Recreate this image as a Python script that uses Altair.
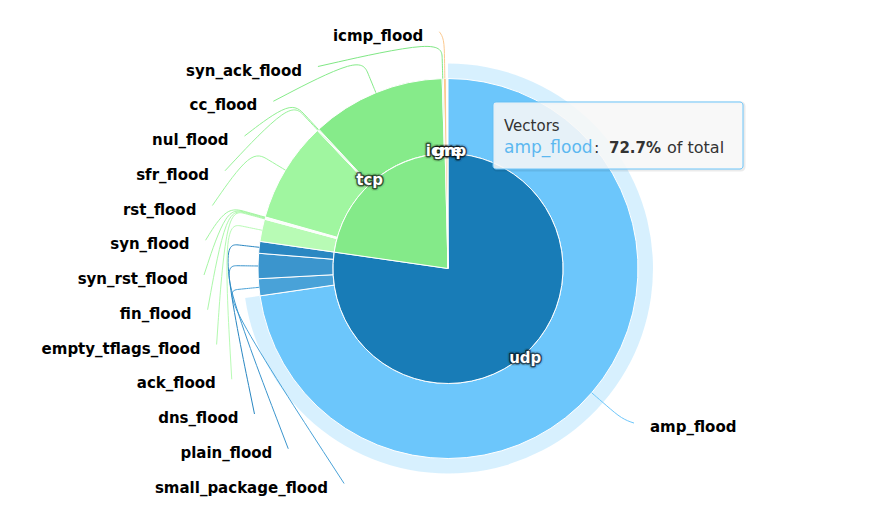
import math
import altair as alt
import numpy as np
import pandas as pd

# ---------------- data ----------------
series_name = "Vectors"
inner_names = ["udp", "tcp", "icmp", "gre"]
inner_values = [77.28, 22.33, 0.25, 0.14]
inner_colors = ["#187cb7", "#84ea89", "#f7a35c", "#e4d354"]

outer_names = ["amp_flood", "small_package_flood", "plain_flood", "dns_flood",
               "ack_flood", "empty_tflags_flood", "fin_flood", "syn_rst_flood", "syn_flood",
               "rst_flood", "sfr_flood", "nul_flood", "cc_flood", "syn_ack_flood",
               "icmp_flood"]
outer_parents = ["udp"] * 4 + ["tcp"] * 10 + ["icmp"]
outer_values = [72.70, 1.44, 2.14, 1.00,
                1.90, 0.05, 0.05, 0.05, 0.05,
                8.56, 0.08, 0.08, 11.41, 0.10,
                0.25]
outer_colors = ["#6cc6fb", "#49a2d8", "#3b95cd", "#2a87c2",
                "#b8fbb5", "#b2f9af", "#acf8aa", "#a6f6a4", "#a2f5a0",
                "#a0f6a0", "#98f299", "#92f093", "#86eb8a", "#80e785",
                "#fcc98f"]
hover_point = "amp_flood"

# ---------------- layout ----------------
W, H = 836, 495
PAD_L, PAD_T = 22, 13
R_IN, R_OUT, R_HALO = 115, 190, 205
R_LABEL_IN = 118
R_BREAK, R_CTRL = 210, 230
LABEL_CIRCLE_R, LABEL_CIRCLE_DX, LABEL_CIRCLE_DY = 235.4, 24.7, 3.2
R_NATURAL = 241.6
SLOT, SLOT0 = 34.75, 224.0
CONN_GAP = 16
FONT = "DejaVu Sans"

TOTAL = float(sum(inner_values))

inner_df = pd.DataFrame({"name": inner_names, "value": inner_values,
                         "color": inner_colors, "idx": range(len(inner_names))})
outer_df = pd.DataFrame({"name": outer_names, "parent": outer_parents,
                         "value": outer_values, "color": outer_colors,
                         "idx": range(len(outer_names))})

vals = np.array(outer_values, dtype=float)
ends = np.cumsum(vals)
starts = ends - vals
mids = (starts + vals / 2) / TOTAL * 2 * math.pi


def label_dx(yc):
    return LABEL_CIRCLE_DX + math.sqrt(max(0.0, LABEL_CIRCLE_R ** 2 - (yc - LABEL_CIRCLE_DY) ** 2))


lab_rows, conn_rows = [], []
k = 0
for i, name in enumerate(outer_names):
    th = mids[i]
    left = th > math.pi
    if left:
        base = SLOT0 - SLOT * k
        k += 1
        yc = base - 5.5
        xl = -label_dx(yc)
        p0x = xl + CONN_GAP
    else:
        yc = R_NATURAL * (-math.cos(th))
        base = yc + 5.5
        xl = label_dx(yc)
        p0x = xl - CONN_GAP
    lab_rows.append({"name": name, "x": xl, "y": base, "side": "left" if left else "right"})
    pts = [(p0x, base - 9)]
    for r in (R_CTRL, R_BREAK, R_OUT):
        pts.append((r * math.sin(th), -r * math.cos(th)))
    for j, (px, py) in enumerate(pts):
        conn_rows.append({"name": name, "o": j, "x": px, "y": py, "color": outer_colors[i]})

lab_df = pd.DataFrame(lab_rows)
conn_df = pd.DataFrame(conn_rows)

hv = outer_values[outer_names.index(hover_point)]
tip_df = pd.DataFrame({"series": [series_name], "point": [hover_point],
                       "pct": [f"{hv / TOTAL * 100:.1f}%"]})

xs = alt.Scale(domain=[-W / 2, W / 2], nice=False, zero=False)
ys = alt.Scale(domain=[-H / 2, H / 2], nice=False, zero=False, reverse=True)
th_scale = alt.Scale(domain=[0, TOTAL])

theta_enc = alt.Theta("value:Q", stack=True, scale=th_scale)

halo = alt.Chart(outer_df).transform_filter(
    alt.datum.name == hover_point
).mark_arc(radius=R_HALO, radius2=R_OUT, opacity=0.27).encode(
    theta=theta_enc, color=alt.Color("color:N", scale=None), order=alt.Order("idx:Q"))

outer = alt.Chart(outer_df).mark_arc(radius=R_OUT, radius2=R_IN, stroke="#ffffff",
                                     strokeWidth=1).encode(
    theta=theta_enc, color=alt.Color("color:N", scale=None), order=alt.Order("idx:Q"))

inner = alt.Chart(inner_df).mark_arc(radius=R_IN, stroke="#ffffff", strokeWidth=1).encode(
    theta=theta_enc, color=alt.Color("color:N", scale=None), order=alt.Order("idx:Q"))

conn = alt.Chart(conn_df).mark_line(interpolate="basis", strokeWidth=1).encode(
    x=alt.X("x:Q", scale=xs, axis=None), y=alt.Y("y:Q", scale=ys, axis=None),
    detail="name:N", order="o:Q", color=alt.Color("color:N", scale=None))

lab_left = alt.Chart(lab_df).transform_filter(alt.datum.side == "left").mark_text(
    align="right", baseline="alphabetic", font=FONT, fontSize=15, fontWeight="bold",
    color="#000000").encode(
    x=alt.X("x:Q", scale=xs, axis=None), y=alt.Y("y:Q", scale=ys, axis=None), text="name:N")

lab_right = alt.Chart(lab_df).transform_filter(alt.datum.side == "right").mark_text(
    align="left", baseline="alphabetic", font=FONT, fontSize=15, fontWeight="bold",
    color="#000000").encode(
    x=alt.X("x:Q", scale=xs, axis=None), y=alt.Y("y:Q", scale=ys, axis=None), text="name:N")

in_base = alt.Chart(inner_df).encode(theta=theta_enc, order=alt.Order("idx:Q"), text="name:N")
in_glow1 = in_base.mark_text(radius=R_LABEL_IN, font=FONT, fontSize=15, fontWeight="bold",
                             color="#000000", stroke="#000000", strokeWidth=6,
                             strokeOpacity=0.25, opacity=0.3, strokeJoin="round")
in_glow2 = in_base.mark_text(radius=R_LABEL_IN, font=FONT, fontSize=15, fontWeight="bold",
                             color="#000000", stroke="#000000", strokeWidth=3,
                             strokeOpacity=0.6, strokeJoin="round")
in_text = in_base.mark_text(radius=R_LABEL_IN, font=FONT, fontSize=15, fontWeight="bold",
                            color="#ffffff")

tip = alt.Chart(tip_df)
tip_shadow = tip.mark_rect(fill=None, stroke="#000000", strokeOpacity=0.08, strokeWidth=3,
                           cornerRadius=3).encode(
    x=alt.value(464), x2=alt.value(714), y=alt.value(82), y2=alt.value(149))
tip_box = tip.mark_rect(fill="#f7f7f7", fillOpacity=0.88, stroke="#6cc6fb", strokeWidth=1,
                        cornerRadius=3).encode(
    x=alt.value(463), x2=alt.value(713), y=alt.value(81), y2=alt.value(148))
tip_head = tip.mark_text(align="left", baseline="alphabetic", font=FONT, fontSize=15,
                         color="#333333").encode(
    x=alt.value(474), y=alt.value(110), text="series:N")
tip_name = tip.mark_text(align="left", baseline="alphabetic", font=FONT, fontSize=17,
                         color="#5cb8f0").encode(
    x=alt.value(474), y=alt.value(132), text="point:N")
tip_colon = tip.mark_text(align="left", baseline="alphabetic", font=FONT, fontSize=16,
                          color="#333333", text=":").encode(
    x=alt.value(564), y=alt.value(132))
tip_pct = tip.mark_text(align="left", baseline="alphabetic", font=FONT, fontSize=15,
                        fontWeight="bold", color="#333333").encode(
    x=alt.value(579), y=alt.value(132), text="pct:N")
tip_rest = tip.mark_text(align="left", baseline="alphabetic", font=FONT, fontSize=16,
                         color="#333333", text="of total").encode(
    x=alt.value(637), y=alt.value(132))

chart = alt.layer(
    halo, outer, inner, conn, lab_left, lab_right, in_glow1, in_glow2, in_text,
    tip_shadow, tip_box, tip_head, tip_name, tip_colon, tip_pct, tip_rest
).properties(
    width=W, height=H,
    padding={"left": PAD_L, "top": PAD_T, "right": 0, "bottom": 0},
    autosize=alt.AutoSizeParams(type="none"),
    background="#ffffff",
).configure_view(stroke=None)

chart.save("out.html", embed_options={"renderer": "svg", "actions": False})
